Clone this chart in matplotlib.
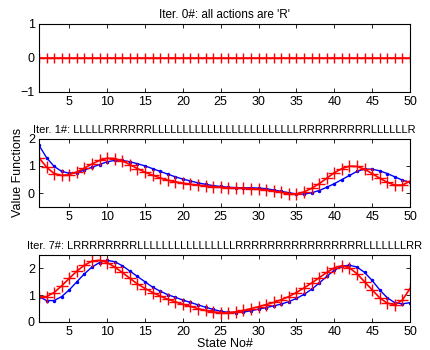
import matplotlib
matplotlib.use("Agg")
import matplotlib.pyplot as plt
import numpy as np

states = list(range(1, 51))

iter0_values = [0.0] * 50

iter1_red = [1.3, 0.95, 0.72, 0.65, 0.68, 0.78, 0.92, 1.07, 1.2, 1.28,
             1.27, 1.18, 1.05, 0.9, 0.77, 0.66, 0.56, 0.48, 0.42, 0.37,
             0.33, 0.3, 0.27, 0.24, 0.22, 0.2, 0.19, 0.18, 0.17, 0.15,
             0.12, 0.08, 0.03, -0.02, -0.02, 0.05, 0.18, 0.35, 0.55, 0.75,
             0.9, 0.99, 0.98, 0.88, 0.72, 0.55, 0.4, 0.3, 0.3, 0.44]
iter1_blue = [1.75, 1.3, 0.98, 0.8, 0.73, 0.75, 0.85, 0.95, 1.05, 1.15,
              1.2, 1.2, 1.15, 1.08, 1.0, 0.9, 0.8, 0.7, 0.6, 0.52,
              0.45, 0.38, 0.33, 0.28, 0.25, 0.22, 0.21, 0.2, 0.2, 0.19,
              0.17, 0.12, 0.07, 0.02, -0.02, -0.03, 0.02, 0.1, 0.22, 0.35,
              0.5, 0.65, 0.8, 0.88, 0.88, 0.82, 0.72, 0.6, 0.48, 0.4]

iter7_red = [0.95, 0.95, 1.1, 1.35, 1.63, 1.9, 2.12, 2.27, 2.3, 2.22,
             2.05, 1.85, 1.63, 1.42, 1.25, 1.1, 0.97, 0.85, 0.75, 0.66,
             0.58, 0.5, 0.43, 0.38, 0.35, 0.35, 0.38, 0.43, 0.5, 0.57,
             0.65, 0.73, 0.83, 0.95, 1.1, 1.27, 1.45, 1.65, 1.85, 2.02,
             2.1, 2.02, 1.8, 1.5, 1.2, 0.9, 0.7, 0.65, 0.82, 1.25]
iter7_blue = [0.95, 0.8, 0.8, 0.95, 1.2, 1.5, 1.8, 2.05, 2.22, 2.3,
              2.25, 2.1, 1.9, 1.7, 1.5, 1.3, 1.15, 1.02, 0.92, 0.82,
              0.73, 0.64, 0.55, 0.47, 0.4, 0.36, 0.35, 0.37, 0.42, 0.48,
              0.54, 0.6, 0.67, 0.76, 0.88, 1.03, 1.22, 1.45, 1.7, 1.93,
              2.08, 2.12, 2.05, 1.85, 1.55, 1.2, 0.9, 0.72, 0.68, 0.72]

titles = ["Iter. 0#: all actions are 'R'",
          "Iter. 1#: LLLLLRRRRRRLLLLLLLLLLLLLLLLLLLLLLLLRRRRRRRRRLLLLLLR",
          "Iter. 7#: LRRRRRRRRLLLLLLLLLLLLLLLLRRRRRRRRRRRRRRRRLLLLLLLRR"]
xticks = [5, 10, 15, 20, 25, 30, 35, 40, 45, 50]

plt.rcParams['font.family'] = ['Liberation Sans', 'DejaVu Sans']
plt.rcParams['font.size'] = 8

fig = plt.figure(figsize=(4.31, 3.5), dpi=100)
W, H = 431, 350
def ax_at(left, top, right, bottom):
    return fig.add_axes([left / W, 1 - bottom / H, (right - left) / W, (bottom - top) / H])

ax1 = ax_at(39, 24, 410, 92)
ax2 = ax_at(39, 138.5, 410, 207)
ax3 = ax_at(39, 255, 410, 322)

ax1.plot(states, iter0_values, color='red', marker='+', markersize=7, linewidth=1.2)
ax1.set_ylim(-1, 1)
ax1.set_yticks([-1, 0, 1])
ax1.set_yticklabels(['\u22121', '0', '1'])

ax2.plot(states, iter1_blue, color='blue', marker='.', markersize=3, linewidth=1)
ax2.plot(states, iter1_red, color='red', marker='+', markersize=8, linewidth=1.2)
ax2.set_ylim(-0.5, 2)
ax2.set_yticks([0, 1, 2])
ax2.set_ylabel('Value Functions', fontsize=9, labelpad=3)

ax3.plot(states, iter7_blue, color='blue', marker='.', markersize=3, linewidth=1)
ax3.plot(states, iter7_red, color='red', marker='+', markersize=8, linewidth=1.2)
ax3.set_ylim(0, 2.5)
ax3.set_yticks([0, 1, 2])
ax3.set_xlabel('State No#', fontsize=9, labelpad=0)

title_sizes = [8.5, 8.0, 8.0]
for ax, t, fs in zip([ax1, ax2, ax3], titles, title_sizes):
    ax.set_xlim(1, 50)
    ax.set_xticks(xticks)
    ax.tick_params(direction='in', length=3, width=0.6, labelsize=9, pad=3,
                   top=True, right=True)
    for s in ax.spines.values():
        s.set_linewidth(0.8)
    ax.set_title(t, fontsize=fs, pad=4)

fig.savefig('out.png', dpi=100)
